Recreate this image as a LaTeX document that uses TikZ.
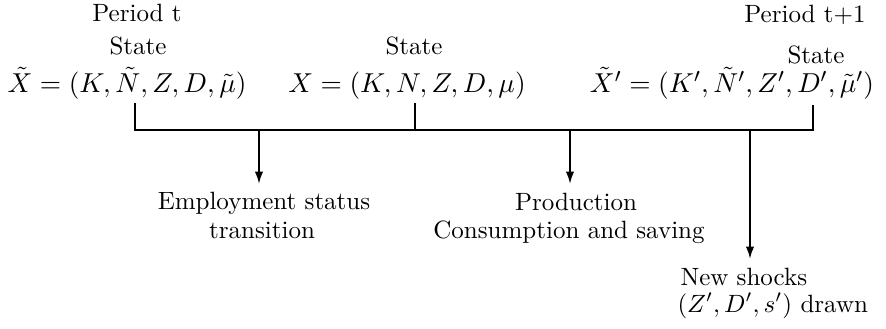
\documentclass[tikz,border=0pt]{standalone}
\usetikzlibrary{arrows.meta}
\begin{document}
\begin{tikzpicture}[x=0.4pt,y=-0.4pt,
  lbl/.style={inner sep=0pt,anchor=base,font=\normalsize},
  mth/.style={inner sep=0pt,anchor=base,font=\fontsize{11.3}{13}\selectfont},
  ln/.style={line width=0.8pt},
  arr/.style={line width=0.8pt,-{Latex[length=5pt,width=3.4pt]}}]
\useasboundingbox (0,0) rectangle (886,328);
% top labels
\node[lbl] (pt) at (137,21) {Period t};
\node[lbl] (s1) at (138,54) {State};
\node[mth] (f1) at (127,92) {$\tilde X = (K,\tilde N,Z,D,\tilde\mu)$};
\node[lbl] (s2) at (414,54) {State};
\node[mth] (f2) at (407,92) {$X = (K,N,Z,D,\mu)$};
\node[lbl] (pt1) at (805,22) {Period t+1};
\node[lbl] (s3) at (816,63) {State};
\node[mth] (f3) at (732,92) {$\tilde X' = (K',\tilde N',Z',D',\tilde\mu')$};
% timeline coordinates
\coordinate (a) at (135,103);
\coordinate (b) at (415,103);
\coordinate (c) at (813,105);
\coordinate (a0) at (135,130);
\coordinate (b0) at (415,130);
\coordinate (c0) at (813,130);
\coordinate (e0) at (259,130);
\coordinate (p0) at (570,130);
\coordinate (n0) at (750,130);
\draw[ln] (a) -- (a0) -- (c0) -- (c);
\draw[ln] (b) -- (b0);
% bottom labels
\node[lbl] (e1) at (264,209) {Employment status};
\node[lbl] (e2) at (262,238) {transition};
\node[lbl] (p1) at (576,210) {Production};
\node[lbl] (p2) at (569,238) {Consumption and saving};
\node[lbl,anchor=base west] (n1) at (680,285) {New shocks};
\node[lbl,anchor=base west] (n2) at (677,312) {$(Z',D',s')$ drawn};
\coordinate (e) at (259,184);
\coordinate (p) at (570,184);
\coordinate (n) at (750,259);
\draw[arr] (e0) -- (e);
\draw[arr] (p0) -- (p);
\draw[arr] (n0) -- (n);
\end{tikzpicture}
\end{document}
